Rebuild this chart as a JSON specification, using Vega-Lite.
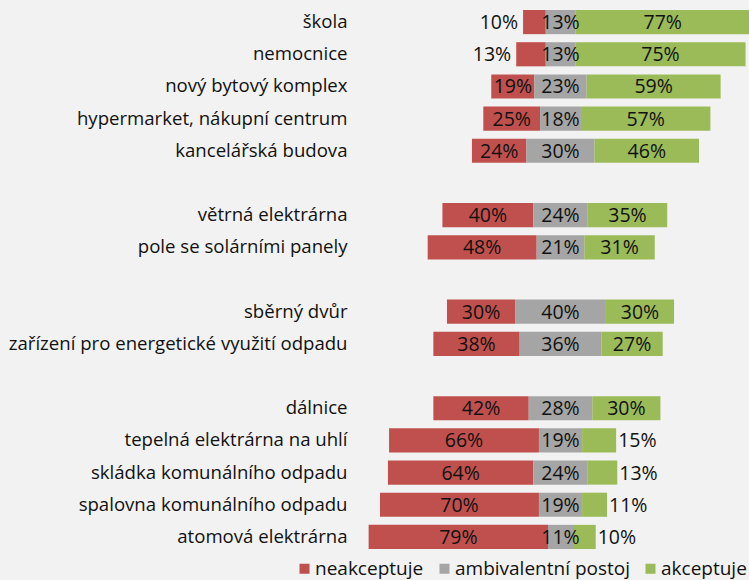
{
  "$schema": "https://vega.github.io/schema/vega-lite/v6.json",
  "autosize": {"type": "none"},
  "padding": {"left": 360, "top": 6, "right": 0, "bottom": 27},
  "width": 389,
  "height": 547,
  "background": "#f2f2f2",
  "config": {
    "view": {"stroke": null},
    "font": "Open Sans",
    "text": {"font": "Open Sans", "fontSize": 19.5, "color": "#111111"}
  },
  "data": {
    "values": [
      {"kategorie": "škola", "neakceptuje": 10, "ambivalentní postoj": 13, "akceptuje": 77},
      {"kategorie": "nemocnice", "neakceptuje": 13, "ambivalentní postoj": 13, "akceptuje": 75},
      {"kategorie": "nový bytový komplex", "neakceptuje": 19, "ambivalentní postoj": 23, "akceptuje": 59},
      {"kategorie": "hypermarket, nákupní centrum", "neakceptuje": 25, "ambivalentní postoj": 18, "akceptuje": 57},
      {"kategorie": "kancelářská budova", "neakceptuje": 24, "ambivalentní postoj": 30, "akceptuje": 46},
      {"kategorie": "větrná elektrárna", "neakceptuje": 40, "ambivalentní postoj": 24, "akceptuje": 35},
      {"kategorie": "pole se solárními panely", "neakceptuje": 48, "ambivalentní postoj": 21, "akceptuje": 31},
      {"kategorie": "sběrný dvůr", "neakceptuje": 30, "ambivalentní postoj": 40, "akceptuje": 30},
      {"kategorie": "zařízení pro energetické využití odpadu", "neakceptuje": 38, "ambivalentní postoj": 36, "akceptuje": 27},
      {"kategorie": "dálnice", "neakceptuje": 42, "ambivalentní postoj": 28, "akceptuje": 30},
      {"kategorie": "tepelná elektrárna na uhlí", "neakceptuje": 66, "ambivalentní postoj": 19, "akceptuje": 15},
      {"kategorie": "skládka komunálního odpadu", "neakceptuje": 64, "ambivalentní postoj": 24, "akceptuje": 13},
      {"kategorie": "spalovna komunálního odpadu", "neakceptuje": 70, "ambivalentní postoj": 19, "akceptuje": 11},
      {"kategorie": "atomová elektrárna", "neakceptuje": 79, "ambivalentní postoj": 11, "akceptuje": 10}
    ]
  },
  "transform": [
    {"calculate": "datum['ambivalentní postoj']", "as": "amb"},
    {"calculate": "datum['neakceptuje']", "as": "neg"},
    {"fold": ["neakceptuje", "ambivalentní postoj", "akceptuje"], "as": ["postoj", "hodnota"]},
    {"calculate": "datum.postoj === 'neakceptuje' ? -datum.amb/2 - datum.neg : (datum.postoj === 'ambivalentní postoj' ? -datum.amb/2 : datum.amb/2)", "as": "x0"},
    {"calculate": "datum.x0 + datum.hodnota", "as": "x1"},
    {"calculate": "(datum.x0 + datum.x1)/2", "as": "xm"},
    {"calculate": "datum.hodnota + '%'", "as": "popisek"}
  ],
  "encoding": {
    "y": {
      "field": "kategorie",
      "type": "nominal",
      "title": null,
      "scale": {
        "domain": ["škola", "nemocnice", "nový bytový komplex", "hypermarket, nákupní centrum", "kancelářská budova", " ", "větrná elektrárna", "pole se solárními panely", "  ", "sběrný dvůr", "zařízení pro energetické využití odpadu", "   ", "dálnice", "tepelná elektrárna na uhlí", "skládka komunálního odpadu", "spalovna komunálního odpadu", "atomová elektrárna"],
        "paddingInner": 0.25,
        "paddingOuter": 0.125
      },
      "axis": {
        "domain": false,
        "ticks": false,
        "tickSize": 0,
        "labelPadding": 13,
        "labelFont": "Open Sans",
        "labelFontSize": 18.6,
        "labelColor": "#111111",
        "labelLimit": 400
      }
    }
  },
  "layer": [
    {
      "mark": {"type": "bar", "clip": true},
      "encoding": {
        "x": {"field": "x0", "type": "quantitative", "scale": {"domain": [-88.3, 83.0], "nice": false, "zero": false}, "axis": null},
        "x2": {"field": "x1"},
        "color": {
          "field": "postoj",
          "type": "nominal",
          "scale": {"domain": ["neakceptuje", "ambivalentní postoj", "akceptuje"], "range": ["#c0504d", "#a5a5a5", "#9bbb59"]},
          "legend": {
            "title": null,
            "orient": "none",
            "direction": "horizontal",
            "legendX": -65,
            "legendY": 553,
            "symbolType": "square",
            "symbolSize": 100,
            "symbolStrokeWidth": 0,
            "labelFont": "Open Sans",
            "labelFontSize": 19,
            "labelColor": "#111111",
            "labelOffset": 1,
            "columnPadding": 11,
            "padding": 0,
            "labelLimit": 300
          }
        }
      }
    },
    {
      "transform": [{"filter": "!((datum.postoj === 'neakceptuje' && datum.hodnota < 14) || (datum.postoj === 'akceptuje' && datum.hodnota < 16))"}],
      "mark": {"type": "text", "align": "center", "baseline": "middle", "dy": 1},
      "encoding": {
        "x": {"field": "xm", "type": "quantitative"},
        "text": {"field": "popisek"}
      }
    },
    {
      "transform": [{"filter": "datum.postoj === 'neakceptuje' && datum.hodnota < 14"}],
      "mark": {"type": "text", "align": "right", "baseline": "middle", "dx": -5, "dy": 1},
      "encoding": {
        "x": {"field": "x0", "type": "quantitative"},
        "text": {"field": "popisek"}
      }
    },
    {
      "transform": [{"filter": "datum.postoj === 'akceptuje' && datum.hodnota < 16"}],
      "mark": {"type": "text", "align": "left", "baseline": "middle", "dx": 2, "dy": 1},
      "encoding": {
        "x": {"field": "x1", "type": "quantitative"},
        "text": {"field": "popisek"}
      }
    }
  ]
}
